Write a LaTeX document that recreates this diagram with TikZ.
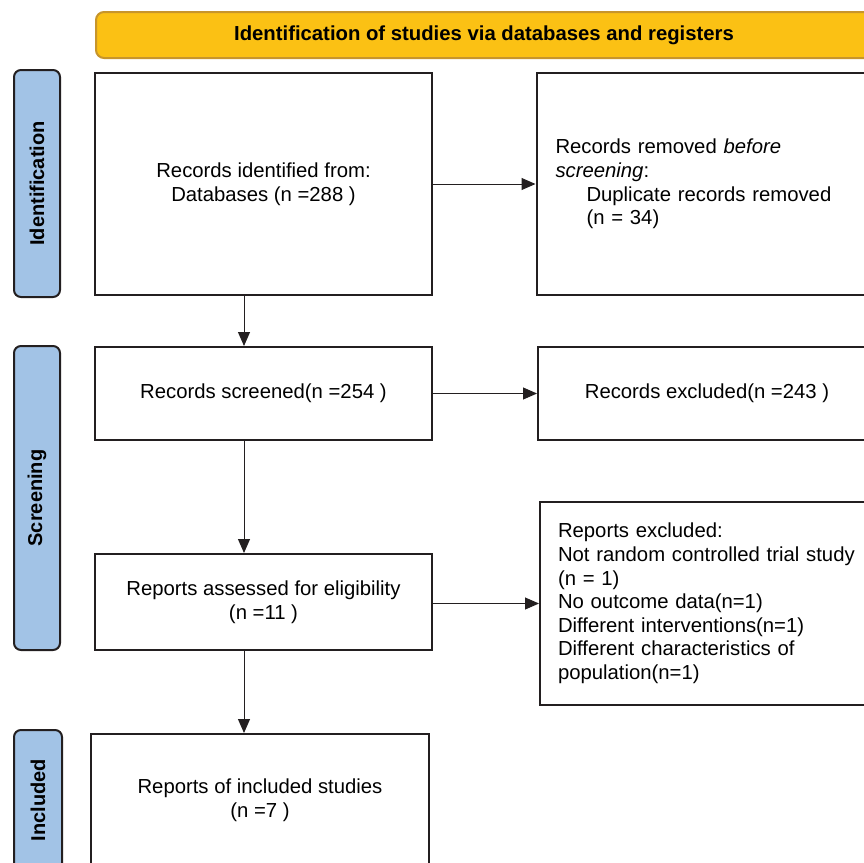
\documentclass[tikz,border=0pt]{standalone}
\usepackage{fontspec}
\setmainfont{Liberation Sans}
\usetikzlibrary{arrows.meta, positioning}
\definecolor{banner}{HTML}{FBC114}
\definecolor{bannerline}{HTML}{C7952B}
\definecolor{stage}{HTML}{A2C3E6}
\definecolor{ink}{HTML}{231F20}
\newcommand{\bodyfont}{\fontsize{20.3}{23.6}\selectfont}

\begin{document}
\begin{tikzpicture}[x=1pt, y=-1pt, >={Triangle[length=14pt, width=12pt]},
    flowbox/.style={draw=ink, line width=2pt, align=center, inner sep=0pt, font=\bodyfont},
    stagebox/.style={draw=ink, fill=stage, line width=2pt, rounded corners=7pt, rotate=90,
        minimum height=46pt, inner sep=0pt, font=\fontsize{20}{24}\selectfont\bfseries},
    flow/.style={->, draw=ink, line width=1pt}]
    \clip (0,0) rectangle (864,862);

    % banner
    \draw (484,35) node[draw=bannerline, fill=banner, line width=2pt, rounded corners=8pt,
        minimum width=776pt, minimum height=46pt, font=\bodyfont\bfseries] (title)
        {Identification of studies via databases and registers};

    % stages down the left side
    \draw (37,183.5) node[stagebox, minimum width=227pt] (identification) {Identification};
    \draw (37,498) node[stagebox, minimum width=304pt] (screening) {Screening};
    \draw (38,800) node[stagebox, minimum width=140pt, minimum height=48pt] (included) {Included};

    % main column
    \draw (263.5,184) node[flowbox, minimum width=337pt, minimum height=222pt] (identified)
        {Records identified from:\\Databases (n =288 )};
    \draw (263.5,393.5) node[flowbox, minimum width=337pt, minimum height=93pt] (screened)
        {Records screened(n =254 )};
    \draw (263.5,602) node[flowbox, minimum width=337pt, minimum height=96pt] (assessed)
        {Reports assessed for eligibility\\(n =11 )};
    \draw (260,800) node[flowbox, minimum width=338pt, minimum height=132pt] (reports)
        {Reports of included studies\\(n =7 )};

    % right column
    \draw (706,184) node[flowbox, minimum width=339pt, minimum height=222pt,
        text width=301pt, align=left] (removed)
        {Records removed \textit{before}\\\textit{screening}:\\
         \hspace*{31pt}Duplicate records removed\\\hspace*{31pt}(n = 34)};
    \draw (707,393.5) node[flowbox, minimum width=338pt, minimum height=93pt] (excluded)
        {Records excluded(n =243 )};
    \draw (709,603.5) node[flowbox, minimum width=338pt, minimum height=203pt,
        text width=302pt, align=left] (rptexcluded)
        {Reports excluded:\\Not random controlled trial study\\(n = 1)\\No outcome data(n=1)\\
         Different interventions(n=1)\\Different characteristics of\\population(n=1)};

    \coordinate (down) at (244,0);

    \draw[flow] (identified.east) -- (removed.west);
    \draw[flow] (screened.east) -- (excluded.west);
    \draw[flow] (assessed.east |- rptexcluded.west) -- (rptexcluded.west);
    \draw[flow] (identified.south -| down) -- (screened.north -| down);
    \draw[flow] (screened.south -| down) -- (assessed.north -| down);
    \draw[flow] (assessed.south -| down) -- (reports.north -| down);
\end{tikzpicture}
\end{document}
